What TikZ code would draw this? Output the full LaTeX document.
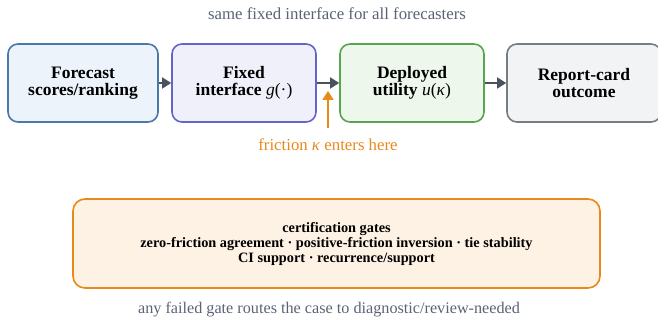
\documentclass[tikz,border=0pt]{standalone}
\usepackage{fontspec}
\setmainfont{Liberation Serif}
\usepackage{tikz}
\usetikzlibrary{arrows.meta,positioning}

\definecolor{scoreline}{HTML}{4A78A8}
\definecolor{scorefill}{HTML}{EDF3FB}
\definecolor{ifaceline}{HTML}{6465C8}
\definecolor{ifacefill}{HTML}{F0F0FB}
\definecolor{utilline}{HTML}{5AA350}
\definecolor{utilfill}{HTML}{EEF7EC}
\definecolor{cardline}{HTML}{767B84}
\definecolor{cardfill}{HTML}{F2F3F5}
\definecolor{gateline}{HTML}{E8891C}
\definecolor{gatefill}{HTML}{FDF2E4}
\definecolor{arrowgray}{HTML}{4A5260}
\definecolor{notegray}{HTML}{5A6375}

\begin{document}
\begin{tikzpicture}[x=1pt, y=-1pt]
			\tikzstyle{Box}		= [draw, line width=1.6pt, rounded corners=10pt, align=center, minimum height=78pt, inner sep=0pt, font=\fontsize{17.5}{17}\selectfont\bfseries]
			\tikzstyle{Gate}	= [draw=gateline, fill=gatefill, line width=1.6pt, rounded corners=12pt, align=center, minimum width=527pt, minimum height=89pt, inner sep=0pt, font=\fontsize{14.3}{15}\selectfont\bfseries]
			\tikzstyle{Flow}	= [-{Triangle[length=9pt, width=11pt]}, line width=1.6pt, arrowgray]
			\tikzstyle{Note}	= [notegray, font=\fontsize{16.8}{18}\selectfont]
			
			\useasboundingbox (0,0) rectangle (658,323);
			
			\node (top) at (337,14) [Note] {same fixed interface for all forecasters};
			
			\node (scores) at (83,83) [Box, draw=scoreline, fill=scorefill, minimum width=150pt] {Forecast\\scores/ranking};
			\node (iface) at (244,83) [Box, draw=ifaceline, fill=ifacefill, minimum width=144pt] {Fixed\\interface {\mdseries\textit{g}(·)}};
			\node (util) at (412,83) [Box, draw=utilline, fill=utilfill, minimum width=144pt] {Deployed\\utility {\mdseries\textit{u}(\textit{κ})}};
			\node (card) at (584,83) [Box, draw=cardline, fill=cardfill, minimum width=154pt] {Report-card\\outcome};
			
			\draw [Flow] (scores) to (iface);
			\draw [Flow] (iface) to (util);
			\draw [Flow] (util) to (card);
			
			\coordinate (kin) at (328,128);
			\coordinate (kout) at (328,91);
			\draw [-{Triangle[length=9pt, width=11pt]}, line width=1.6pt, gateline] (kin) to (kout);
			\node (friction) at (328,145) [gateline, font=\fontsize{16.8}{18}\selectfont] {friction \textit{κ} enters here};
			
			\node (gates) at (336.5,243.5) [Gate] {certification gates\\zero-friction agreement · positive-friction inversion · tie stability\\CI support · recurrence/support};
			
			\node (route) at (329,310) [Note, font=\fontsize{16.2}{18}\selectfont] {any failed gate routes the case to diagnostic/review-needed};
		\end{tikzpicture}
\end{document}
